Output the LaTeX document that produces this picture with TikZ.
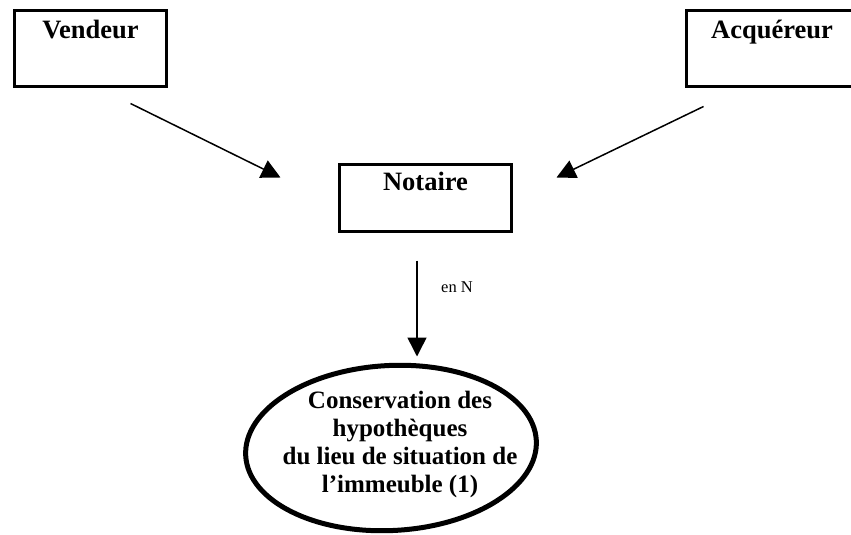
\documentclass[tikz,border=0pt]{standalone}
\usepackage{fontspec}
\setmainfont{Liberation Serif}
\usetikzlibrary{arrows.meta,calc,shapes.geometric}
\begin{document}
\begin{tikzpicture}[x=1pt,y=-1pt,
  box/.style={draw,line width=3pt,inner sep=0pt,font=\fontsize{26.5}{28}\selectfont\bfseries},
  arr/.style={line width=1.5pt,-{Triangle[length=19pt,width=19pt]}},
  lbl/.style={font=\fontsize{16.5}{18}\selectfont,inner sep=0pt}]
\useasboundingbox (0,0) rectangle (851,535);
\node[box,minimum width=152pt,text height=28pt,text depth=48pt] (vendeur) at (90.5,48.5) {Vendeur};
\node[box,minimum width=171pt,text height=28pt,text depth=48pt] (acq) at (772,48.5) {Acquéreur};
\node[box,minimum width=172pt,text height=26pt,text depth=41pt] (notaire) at (425.5,198) {Notaire};
\node[draw,ellipse,line width=5pt,minimum width=291pt,minimum height=165pt,rotate=3,inner sep=0pt] (cons) at (391,448) {};
\node[align=center,inner sep=0pt,font=\fontsize{25}{28}\selectfont\bfseries] (constxt) at (400,444)
  {Conservation des\\hypothèques\\du lieu de situation de\\l’immeuble (1)};
\draw[arr] ($(vendeur.south east)+(-37.5,15.5)$) -- ($(notaire.north west)+(-57.5,14.5)$);
\draw[arr] ($(acq.south west)+(18.5,18.5)$) -- ($(notaire.north east)+(43.5,14.5)$);
\draw[arr] ($(notaire.south)+(-8.5,27.5)$) -- ($(notaire.south)+(-8.5,123.5)$);
\node[lbl,anchor=base] (enn) at (457,292) {en N};
\end{tikzpicture}
\end{document}
